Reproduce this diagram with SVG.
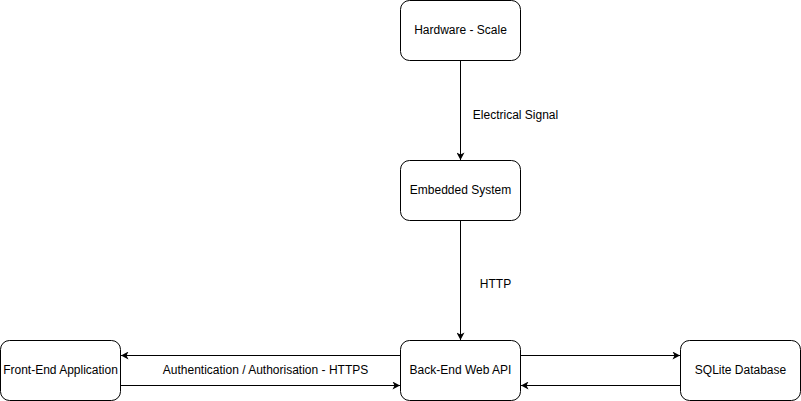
<svg xmlns="http://www.w3.org/2000/svg" width="801" height="401" viewBox="0 0 801 401">
<style>
.box{fill:#fff;stroke:#000;stroke-width:1}
.t{font-family:"Liberation Sans",Arial,sans-serif;font-size:12px;fill:#000;text-anchor:middle;dominant-baseline:central}
.e{fill:none;stroke:#000;stroke-width:1}
</style>
<defs>
<marker id="arr" markerWidth="8" markerHeight="8" viewBox="-8 -4 8 8" refX="0" refY="0" orient="auto" markerUnits="userSpaceOnUse">
<path d="M0,0 L-7.5,-4 L-5.5,0 L-7.5,4 Z" fill="#000"/>
</marker>
</defs>
<rect width="801" height="401" fill="#fff"/>
<g id="connectors">
<path class="e" d="M460.5,60.5 L460.5,160" marker-end="url(#arr)"/>
<path class="e" d="M460.5,220.5 L460.5,340" marker-end="url(#arr)"/>
<path class="e" d="M400.5,355.5 L121,355.5" marker-end="url(#arr)"/>
<path class="e" d="M120.5,385.5 L400,385.5" marker-end="url(#arr)"/>
<path class="e" d="M520.5,355.5 L680,355.5" marker-end="url(#arr)"/>
<path class="e" d="M680.5,385.5 L521,385.5" marker-end="url(#arr)"/>
<text class="t" x="515.5" y="115">Electrical Signal</text>
<text class="t" x="495.5" y="284">HTTP</text>
<text class="t" x="265.5" y="370">Authentication / Authorisation - HTTPS</text>
</g>
<g id="hardware">
<rect class="box" x="400.5" y="0.5" width="120" height="60" rx="9"/>
<text class="t" x="460.5" y="30">Hardware - Scale</text>
</g>
<g id="embedded">
<rect class="box" x="400.5" y="160.5" width="120" height="60" rx="9"/>
<text class="t" x="460.5" y="190">Embedded System</text>
</g>
<g id="backend">
<rect class="box" x="400.5" y="340.5" width="120" height="60" rx="9"/>
<text class="t" x="460.5" y="370">Back-End Web API</text>
</g>
<g id="frontend">
<rect class="box" x="0.5" y="340.5" width="120" height="60" rx="9"/>
<text class="t" x="60.5" y="370">Front-End Application</text>
</g>
<g id="sqlite">
<rect class="box" x="680.5" y="340.5" width="120" height="60" rx="9"/>
<text class="t" x="740.5" y="370">SQLite Database</text>
</g>
</svg>
